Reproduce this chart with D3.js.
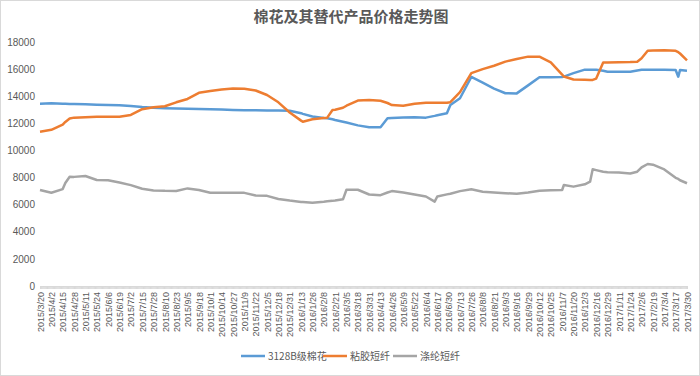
<!DOCTYPE html>
<html lang="zh">
<head>
<meta charset="utf-8">
<style>
  body { margin: 0; background: #fff; }
  text { font-family: "Liberation Sans", "Noto Sans CJK SC", sans-serif; fill: #595959; }
  .cjk { font-family: "Noto Sans CJK SC", sans-serif; }
</style>
</head>
<body>
<script src="https://cdn.jsdelivr.net/npm/d3@7/dist/d3.min.js"></script>
<script>
// data
var dates = ["2015-03-20","2015-04-02","2015-04-15","2015-04-18","2015-04-23","2015-04-28","2015-05-11","2015-05-24",
  "2015-06-06","2015-06-19","2015-07-02","2015-07-15","2015-07-28","2015-08-10","2015-08-23","2015-09-05","2015-09-18",
  "2015-10-01","2015-10-14","2015-10-27","2015-11-09","2015-11-22","2015-12-05","2015-12-18","2015-12-31","2016-01-13",
  "2016-01-15","2016-01-26","2016-02-08","2016-02-12","2016-02-18","2016-02-21","2016-03-01","2016-03-05","2016-03-18",
  "2016-03-31","2016-04-13","2016-04-21","2016-04-26","2016-05-09","2016-05-22","2016-06-04","2016-06-14","2016-06-17",
  "2016-06-28","2016-07-02","2016-07-13","2016-07-26","2016-08-08","2016-08-21","2016-09-03","2016-09-16","2016-09-29",
  "2016-10-12","2016-10-25","2016-11-07","2016-11-09","2016-11-20","2016-12-03","2016-12-09","2016-12-12","2016-12-16",
  "2016-12-24","2016-12-29","2017-01-11","2017-01-24","2017-02-01","2017-02-06","2017-02-13","2017-02-19","2017-03-04",
  "2017-03-17","2017-03-20","2017-03-22","2017-03-30"];

var cotton = [13450,13480,13450,13440,13430,13420,13400,13380,13350,13330,13280,13200,13150,13120,13100,13080,13060,
  13040,13020,12990,12970,12960,12950,12940,12935,12750,12700,12500,12400,12380,12300,12250,12120,12060,11850,
  11710,11710,12370,12400,12430,12450,12420,12550,12600,12740,13350,13850,15420,15000,14560,14220,14210,14800,
  15400,15400,15420,15450,15700,15960,15950,15950,15950,15880,15810,15810,15810,15900,15950,15960,15960,15950,
  15930,15440,15930,15880];

var viscose = [11385,11520,11900,12100,12350,12420,12450,12490,12490,12490,12620,13040,13180,13260,13550,13800,14250,
  14380,14500,14570,14550,14420,14090,13550,12800,12200,12120,12300,12400,12420,12985,13000,13150,13300,13680,
  13720,13670,13500,13350,13300,13450,13520,13520,13520,13520,13560,14300,15700,16000,16250,16550,16750,16920,
  16920,16500,15600,15450,15230,15210,15200,15200,15300,16480,16480,16500,16520,16550,16800,17360,17380,17400,
  17350,17250,17150,16650];

var polyester = [7080,6880,7150,7600,8065,8050,8115,7820,7800,7640,7440,7170,7050,7020,7010,7200,7080,
  6880,6880,6880,6870,6680,6650,6420,6300,6200,6190,6150,6220,6250,6280,6300,6395,7100,7100,
  6750,6700,6900,7000,6900,6750,6600,6220,6600,6760,6800,7000,7130,6960,6900,6850,6800,6900,
  7030,7070,7080,7450,7330,7500,7695,8610,8550,8430,8400,8380,8300,8430,8750,9000,8950,8600,
  7980,7900,7800,7580];

var seriesNames = ["3128B级棉花", "粘胶短纤", "涤纶短纤"];
var seriesColors = ["#5B9BD5", "#ED7D31", "#A5A5A5"];
var yTicks = [0, 2000, 4000, 6000, 8000, 10000, 12000, 14000, 16000, 18000];

// x labels every 13 days from the first date
var labelStart = "2015-03-20", labelEnd = "2017-03-30", labelStep = 13;

var width = 700, height = 376;
var parse = d3.timeParse("%Y-%m-%d");
var fmt = d3.timeFormat("%Y/%-m/%-d");

var svg = d3.select("body").append("svg")
  .attr("width", width)
  .attr("height", height);

svg.append("rect")
  .attr("x", 0.5).attr("y", 0.5)
  .attr("width", width - 1).attr("height", height - 1)
  .attr("fill", "#fff")
  .attr("stroke", "#D9D9D9");

// title
svg.append("text")
  .attr("class", "cjk")
  .attr("x", 351).attr("y", 22)
  .attr("text-anchor", "middle")
  .style("font-size", "15px")
  .style("font-weight", "bold")
  .text("棉花及其替代产品价格走势图");

var x = d3.scaleTime()
  .domain([parse(labelStart), parse(labelEnd)])
  .range([40, 687]);
var y = d3.scaleLinear()
  .domain([0, 18000])
  .range([286, 42]);

// y axis labels
var gy = svg.append("g")
  .attr("transform", "translate(40,0)")
  .call(d3.axisLeft(y).tickValues(yTicks).tickSize(0).tickPadding(5).tickFormat(d3.format("d")));
gy.select(".domain").remove();
gy.selectAll("text").style("font-size", "10px").style("fill", "#595959");

// x axis: daily tick marks making the grey band
var allDays = d3.timeDay.range(parse(labelStart), d3.timeDay.offset(parse(labelEnd), 1));
var gband = svg.append("g")
  .attr("transform", "translate(0,286)")
  .call(d3.axisBottom(x).tickValues(allDays).tickSize(3).tickFormat(""));
gband.select(".domain").attr("stroke", "#D9D9D9");
gband.selectAll("line").attr("stroke", "#D9D9D9");

// x labels
var ticks = [];
for (var d = parse(labelStart); d <= parse(labelEnd); d = d3.timeDay.offset(d, labelStep)) ticks.push(d);

var gx = svg.append("g")
  .attr("transform", "translate(0,289)")
  .call(d3.axisBottom(x).tickValues(ticks).tickSize(0).tickFormat(fmt));
gx.select(".domain").remove();
gx.selectAll("text")
  .attr("transform", "rotate(-90)")
  .attr("text-anchor", "end")
  .attr("x", -3)
  .attr("y", 0)
  .attr("dy", "0.35em")
  .style("font-size", "9px")
  .style("fill", "#595959");

// lines
var allSeries = [cotton, viscose, polyester];
var line = d3.line()
  .x(function(d, i) { return x(parse(dates[i])); })
  .y(function(d) { return y(d); });

allSeries.forEach(function(s, i) {
  svg.append("path")
    .datum(s)
    .attr("fill", "none")
    .attr("stroke", seriesColors[i])
    .attr("stroke-width", 2.5)
    .attr("stroke-linejoin", "round")
    .attr("d", line);
});

// legend
var legendX = [241, 323, 393];
var legend = svg.append("g").attr("transform", "translate(0,356)");
seriesNames.forEach(function(name, i) {
  legend.append("line")
    .attr("x1", legendX[i]).attr("x2", legendX[i] + 24)
    .attr("y1", 0).attr("y2", 0)
    .attr("stroke", seriesColors[i])
    .attr("stroke-width", 2.5);
  legend.append("text")
    .attr("class", "cjk")
    .attr("x", legendX[i] + 27)
    .attr("y", 0)
    .attr("dy", "0.35em")
    .style("font-size", "10px")
    .text(name);
});
</script>
</body>
</html>
